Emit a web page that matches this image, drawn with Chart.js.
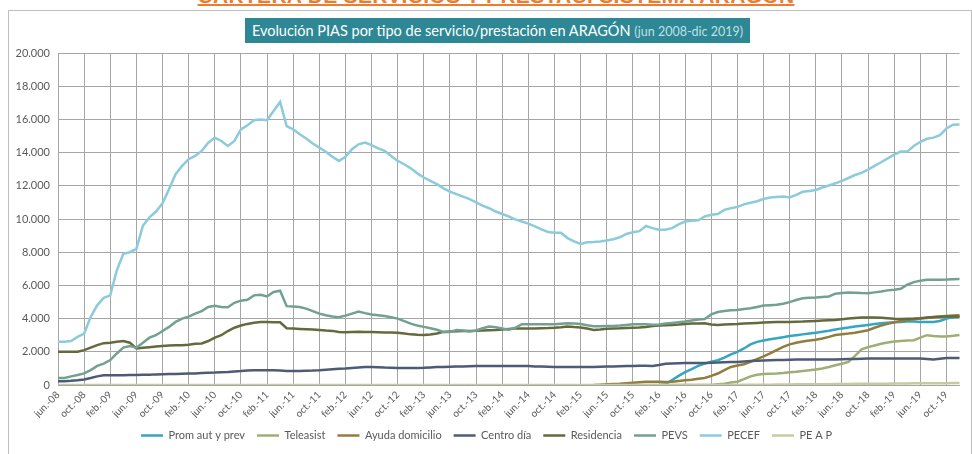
<!DOCTYPE html>
<html lang="es">
<head>
<meta charset="utf-8">
<script src="https://cdn.jsdelivr.net/npm/chart.js@4.4.1/dist/chart.umd.min.js"></script>
<style>
html, body { margin: 0; padding: 0; background: #fff; }
body { width: 972px; height: 454px; position: relative; overflow: hidden; }
#bigTitle {
    position: absolute; left: 10px; width: 972px; top: -16px; text-align: center;
    font: bold 21px "Liberation Sans", Arial, sans-serif; color: #ec7c30; letter-spacing: 0.3px;
    text-decoration: underline; text-decoration-thickness: 2px; text-underline-offset: 1px;
}
#frame { position: absolute; left: 8px; top: 10px; width: 964px; height: 460px; border: 1px solid #bfbfbf; box-sizing: border-box; }
#boxTitle {
    position: absolute; left: 245px; top: 18px; width: 505px; height: 25px;
    background: #2e8795; color: #fff; font: 14.5px Lato, sans-serif; line-height: 25px; text-align: center;
}
#boxTitle span { color: #bfe0e4; font-size: 12.5px; }
#chart { position: absolute; left: 0; top: 0; }
</style>
</head>
<body>
<div id="frame"></div>
<div id="bigTitle">CARTERA DE SERVICIOS Y PRESTAC. SISTEMA ARAGÓN</div>
<div id="boxTitle">Evolución PIAS por tipo de servicio/prestación en ARAGÓN <span>(jun 2008-dic 2019)</span></div>
<canvas id="chart" width="972" height="454"></canvas>
<script>
// meses jun-08 .. dic-19 (139 puntos)
const monthNames = ['jun.', 'jul.', 'ago.', 'sep.', 'oct.', 'nov.', 'dic.', 'ene.', 'feb.', 'mar.', 'abr.', 'may.'];
const seriesNames = ['Prom aut y prev', 'Teleasist', 'Ayuda domicilio', 'Centro día', 'Residencia', 'PEVS', 'PECEF', 'PE A P'];
const seriesColors = ['#34a6c0', '#9fae74', '#927d3f', '#4d5b75', '#646a3c', '#72a091', '#8ccbdb', '#c7caa0'];

const promAut = Array(92).fill(null).concat([
    0, 50, 300, 550, 780, 950, 1150, 1290, 1400, 1490,
    1650, 1850, 2000, 2200, 2450, 2600, 2680, 2750, 2810, 2880,
    2950, 3000, 3050, 3100, 3150, 3210, 3270, 3340, 3410, 3460,
    3520, 3570, 3620, 3670, 3720, 3750, 3780, 3800, 3820, 3820,
    3800, 3790, 3800, 3860, 4000, 4080, 4120]);

const teleasist = Array(84).fill(null).concat([
    0, 0, 0, 0, 0, 0, 0, 0, 0, 0, 0, 0, 0, 0, 0, 0, 0,
    50, 80, 150, 200, 350, 520, 620, 660, 680, 700,
    730, 770, 800, 850, 890, 930, 990, 1080, 1190, 1280,
    1390, 1750, 2150, 2280, 2380, 2480, 2560, 2620, 2650, 2680,
    2700, 2850, 3000, 2950, 2920, 2920, 2960, 3010]);

const ayudaDomicilio = Array(82).fill(null).concat([
    0, 20, 40, 60, 80, 110, 140, 170, 190, 200,
    190, 180, 200, 240, 280, 320, 370, 420, 550, 690,
    900, 1090, 1170, 1250, 1400, 1560, 1720, 1900, 2100, 2300,
    2450, 2550, 2620, 2680, 2730, 2800, 2900, 3010, 3060, 3100,
    3150, 3220, 3300, 3450, 3580, 3680, 3780, 3850, 3920, 3960,
    4000, 4040, 4080, 4120, 4150, 4180, 4200]);

const centroDia = [
    220, 230, 250, 280, 330, 420, 520, 580, 590, 590,
    590, 600, 600, 610, 620, 640, 650, 660, 670, 680,
    690, 700, 720, 740, 750, 770, 790, 820, 840, 870,
    890, 890, 890, 890, 880, 850, 840, 850, 860, 870,
    890, 920, 950, 980, 1000, 1030, 1060, 1090, 1090, 1070,
    1050, 1040, 1030, 1030, 1030, 1030, 1040, 1060, 1080, 1090,
    1100, 1110, 1120, 1130, 1140, 1150, 1150, 1150, 1150, 1150,
    1150, 1150, 1140, 1120, 1110, 1100, 1090, 1090, 1090, 1090,
    1090, 1090, 1090, 1100, 1110, 1120, 1130, 1140, 1150, 1160,
    1160, 1150, 1200, 1280, 1300, 1310, 1320, 1320, 1330, 1330,
    1340, 1350, 1370, 1380, 1390, 1420, 1440, 1460, 1480, 1490,
    1500, 1510, 1520, 1530, 1530, 1530, 1530, 1530, 1530, 1540,
    1550, 1560, 1570, 1580, 1590, 1590, 1590, 1590, 1590, 1590,
    1590, 1590, 1590, 1570, 1530, 1580, 1630, 1630, 1630];

const residencia = [
    2000, 2000, 2000, 2000, 2100, 2250, 2400, 2520, 2550, 2600,
    2650, 2550, 2200, 2240, 2280, 2320, 2350, 2380, 2400, 2400,
    2420, 2480, 2500, 2650, 2850, 3000, 3250, 3450, 3580, 3680,
    3750, 3800, 3790, 3780, 3780, 3420, 3400, 3380, 3360, 3340,
    3320, 3280, 3260, 3190, 3180, 3200, 3210, 3200, 3190, 3180,
    3170, 3170, 3150, 3100, 3050, 3020, 3010, 3040, 3100, 3200,
    3230, 3240, 3250, 3260, 3270, 3290, 3300, 3310, 3340, 3380,
    3400, 3410, 3410, 3410, 3420, 3430, 3450, 3480, 3520, 3490,
    3470, 3400, 3320, 3340, 3390, 3410, 3420, 3440, 3450, 3460,
    3500, 3550, 3580, 3600, 3620, 3640, 3680, 3700, 3710, 3720,
    3640, 3620, 3640, 3660, 3670, 3700, 3720, 3740, 3760, 3780,
    3790, 3800, 3800, 3810, 3820, 3840, 3860, 3880, 3900, 3920,
    3960, 4000, 4030, 4060, 4060, 4060, 4050, 4020, 3990, 3980,
    3990, 4000, 4020, 4060, 4100, 4110, 4120, 4120, 4120];

const pevs = [
    420, 420, 520, 600, 700, 900, 1150, 1290, 1500, 1900,
    2250, 2350, 2250, 2550, 2850, 3000, 3250, 3500, 3800, 4000,
    4120, 4300, 4450, 4700, 4780, 4700, 4680, 4950, 5080, 5130,
    5400, 5430, 5330, 5600, 5680, 4750, 4730, 4700, 4600, 4450,
    4300, 4200, 4130, 4080, 4180, 4300, 4420, 4330, 4250, 4200,
    4150, 4080, 4000, 3850, 3700, 3580, 3500, 3420, 3330, 3200,
    3200, 3310, 3280, 3220, 3280, 3420, 3520, 3480, 3400, 3330,
    3450, 3660, 3660, 3660, 3660, 3660, 3660, 3690, 3720, 3700,
    3680, 3600, 3540, 3540, 3560, 3560, 3580, 3620, 3660, 3660,
    3660, 3630, 3640, 3700, 3740, 3780, 3820, 3880, 3940, 3980,
    4250, 4400, 4460, 4500, 4520, 4580, 4630, 4700, 4790, 4810,
    4830, 4900, 4990, 5120, 5230, 5250, 5270, 5300, 5330, 5500,
    5540, 5570, 5560, 5540, 5530, 5580, 5630, 5700, 5740, 5800,
    6040, 6200, 6280, 6340, 6340, 6340, 6350, 6370, 6380];

const pecef = [
    2600, 2600, 2650, 2900, 3100, 4100, 4800, 5250, 5400, 6900,
    7900, 8000, 8200, 9600, 10100, 10450, 10950, 11800, 12700, 13200,
    13600, 13800, 14100, 14600, 14900, 14700, 14400, 14700, 15400, 15650,
    15950, 16000, 15950, 16500, 17050, 15600, 15400, 15100, 14850, 14550,
    14300, 14050, 13750, 13500, 13750, 14200, 14500, 14600, 14450, 14250,
    14100, 13800, 13500, 13300, 13050, 12750, 12500, 12300, 12100, 11850,
    11650, 11500, 11350, 11200, 11000, 10800, 10650, 10450, 10300, 10150,
    9980, 9850, 9720, 9550, 9380, 9220, 9170, 9170, 8850, 8650,
    8500, 8600, 8620, 8650, 8700, 8780, 8900, 9100, 9200, 9270,
    9580, 9450, 9350, 9350, 9450, 9680, 9850, 9900, 9920, 10150,
    10250, 10300, 10550, 10650, 10730, 10880, 10980, 11070, 11200, 11290,
    11320, 11350, 11300, 11450, 11640, 11690, 11750, 11900, 12020, 12150,
    12300, 12470, 12650, 12780, 12980, 13200, 13420, 13650, 13880, 14060,
    14060, 14400, 14650, 14830, 14900, 15050, 15450, 15680, 15700];

const peap = [
    0, 0, 0, 0, 0, 0, 0, 0, 0, 0, 0, 0, 0, 0, 0,
    0, 0, 0, 0, 0, 0, 0, 0, 0, 0, 0, 0, 0, 0, 0,
    0, 0, 0, 0, 0, 0, 0, 0, 0, 0, 0, 0, 0, 0, 0,
    0, 0, 0, 0, 0, 0, 0, 0, 0, 0, 0, 0, 0, 0, 0,
    0, 0, 0, 0, 0, 0, 0, 0, 0, 0, 0, 0, 0, 0, 0,
    0, 0, 0, 0, 0, 0, 0, 0, 0, 0, 0, 0, 0, 0, 0,
    0, 0, 0, 0, 0, 0, 0, 0, 0, 0, 0, 0, 0, 0, 0,
    10, 10, 20, 20, 20, 30, 30, 30, 40, 40,
    40, 50, 50, 50, 60, 60, 60, 70, 70, 70,
    80, 80, 80, 90, 90, 90, 100, 100, 100, 110,
    110, 110, 120, 120];

const labels = [];
for (var i = 0; i < pecef.length; ++i) {
    var yy = 8 + Math.floor((i + 5) / 12);
    labels.push(monthNames[i % 12] + '-' + (yy < 10 ? '0' + yy : yy));
}

// 20000 -> "20.000"
function fmt(v) {
    return String(Math.round(Number(v))).replace(/\B(?=(\d{3})+(?!\d))/g, '.');
}

const allSeries = [promAut, teleasist, ayudaDomicilio, centroDia, residencia, pevs, pecef, peap];
const datasets = allSeries.map((d, k) => ({
    label: seriesNames[k],
    data: d,
    borderColor: seriesColors[k],
    backgroundColor: seriesColors[k],
    borderWidth: 2.5,
    pointRadius: 0,
    tension: 0,
    order: allSeries.length - k
}));

new Chart(document.getElementById('chart'), {
    type: 'line',
    data: { labels: labels, datasets: datasets },
    options: {
        responsive: false,
        animation: false,
        devicePixelRatio: 1,
        layout: { padding: { left: 8, right: 7, top: 53, bottom: 3 } },
        plugins: {
            tooltip: { enabled: false },
            legend: {
                position: 'bottom',
                labels: {
                    usePointStyle: true,
                    pointStyle: 'line',
                    pointStyleWidth: 22,
                    padding: 12,
                    color: '#595959',
                    font: { family: 'Lato', size: 11 },
                    sort: (a, b) => a.datasetIndex - b.datasetIndex
                }
            }
        },
        scales: {
            x: {
                offset: false,
                grid: {
                    color: (ctx) => (ctx.index % 4 === 0 ? '#a6a6a6' : 'rgba(0,0,0,0)'),
                    drawTicks: false,
                    lineWidth: 1
                },
                border: { color: '#a6a6a6' },
                ticks: {
                    autoSkip: false,
                    maxRotation: 45,
                    minRotation: 45,
                    padding: 4,
                    color: '#595959',
                    font: { family: 'Lato', size: 10 },
                    callback: function (v, idx) { return idx % 4 === 0 ? labels[idx] : ''; }
                },
                afterFit: (s) => { s.height = 33; }
            },
            y: {
                min: 0,
                max: 20000,
                grid: { color: '#a6a6a6', drawTicks: false },
                border: { color: '#a6a6a6' },
                ticks: {
                    stepSize: 2000,
                    padding: 8,
                    color: '#595959',
                    font: { family: 'Lato', size: 11 },
                    callback: function (v) { return fmt(v); }
                },
                afterFit: (s) => { s.width = 50; }
            }
        }
    }
});
</script>
</body>
</html>
